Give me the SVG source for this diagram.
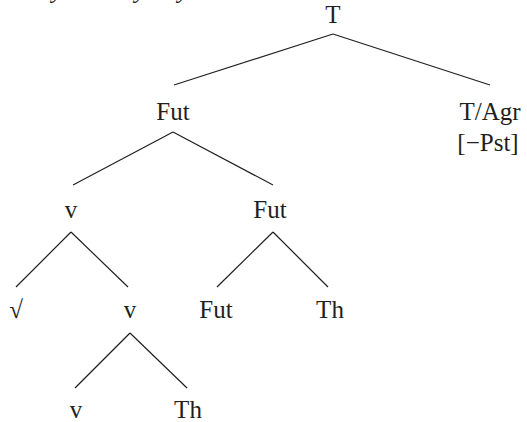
<svg xmlns="http://www.w3.org/2000/svg" width="527" height="422" viewBox="0 0 527 422">
<style>
text{font-family:"Liberation Serif","Times New Roman",serif;font-size:25px;fill:#231f20;text-anchor:middle}
.frag{font-style:italic;text-anchor:start}
#edges line{stroke:#231f20;stroke-width:1.2}
</style>
<rect width="527" height="422" fill="#fff"/>
<g id="cut-text">
<text class="frag" x="52" y="-2.5">y</text>
<text class="frag" x="135" y="-2.5">y</text>
<text class="frag" x="178" y="-2.5">y</text>
</g>
<g id="edges">
<line x1="333" y1="34" x2="174" y2="85"/>
<line x1="333" y1="34" x2="490" y2="85"/>
<line x1="173" y1="132" x2="73" y2="185"/>
<line x1="173" y1="132" x2="273" y2="185"/>
<line x1="71" y1="232" x2="16" y2="287"/>
<line x1="71" y1="232" x2="128" y2="287"/>
<line x1="273" y1="232" x2="217" y2="287"/>
<line x1="273" y1="232" x2="328" y2="287"/>
<line x1="130" y1="333" x2="75" y2="388"/>
<line x1="130" y1="333" x2="187" y2="388"/>
</g>
<g id="n-T"><text x="333" y="23">T</text></g>
<g id="n-Fut1"><text x="173" y="120">Fut</text></g>
<g id="n-TAgr"><text x="490" y="120">T/Agr</text><text x="488" y="151">[−Pst]</text></g>
<g id="n-v1"><text x="71" y="218">v</text></g>
<g id="n-Fut2"><text x="270" y="218">Fut</text></g>
<g id="n-root"><text x="16" y="318">√</text></g>
<g id="n-v2"><text x="130" y="318">v</text></g>
<g id="n-Fut3"><text x="216" y="318">Fut</text></g>
<g id="n-Th1"><text x="330" y="318">Th</text></g>
<g id="n-v3"><text x="76" y="418">v</text></g>
<g id="n-Th2"><text x="188" y="418">Th</text></g>
</svg>
